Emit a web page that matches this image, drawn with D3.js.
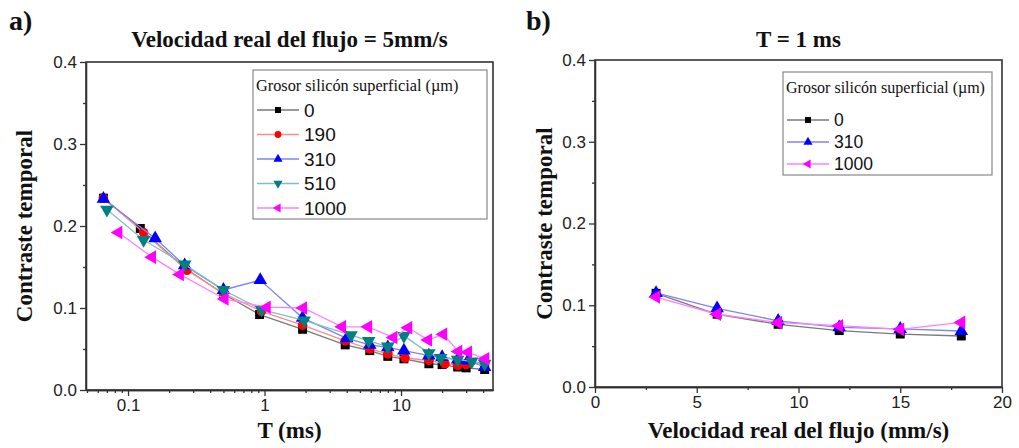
<!DOCTYPE html>
<html lang="en">
<head>
<meta charset="UTF-8">
<title>Contraste temporal</title>
<script src="https://d3js.org/d3.v7.min.js"></script>
<style>
    body { margin: 0; background: #fff; }
    svg { display: block; }
    .tick text { font-family: "Liberation Sans", Arial, sans-serif; font-size: 17px; fill: #222; }
    .tick line, .domain { stroke: #333; stroke-width: 1.3px; }
    .frame { fill: none; stroke: #333; stroke-width: 1.6px; }
    .title, .axis-label, .panel-tag { font-family: "Liberation Serif", "Times New Roman", serif; font-weight: bold; fill: #111; }
    .legend-title { font-family: "Liberation Serif", "Times New Roman", serif; fill: #111; }
    .legend-text { font-family: "Liberation Sans", Arial, sans-serif; fill: #111; }
    .legend-box { fill: #fff; stroke: #888; stroke-width: 1.2px; }
</style>
</head>
<body>
<svg id="chart" width="1019" height="448"></svg>
<script>
// ---- panel a) : contraste vs T (ms), velocidad = 5 mm/s ----
const tBlack = [0.066, 0.123, 0.26, 0.5, 0.92, 1.9, 3.9, 5.9, 8, 10.5, 16, 20, 26, 30, 41];
const vBlack = [0.234, 0.197, 0.149, 0.117, 0.092, 0.074, 0.055, 0.048, 0.041, 0.038, 0.032, 0.031, 0.028, 0.027, 0.025];
const tRed = [0.066, 0.13, 0.27, 0.5, 0.95, 1.9, 3.9, 5.9, 8, 10.7, 16, 21, 26, 30, 41];
const vRed = [0.234, 0.192, 0.146, 0.118, 0.096, 0.079, 0.060, 0.050, 0.044, 0.039, 0.036, 0.032, 0.030, 0.031, 0.033];
const tBlue = [0.066, 0.158, 0.26, 0.5, 0.93, 1.9, 4, 5.9, 8, 10.5, 16, 20, 26, 31, 41];
const vBlue = [0.233, 0.185, 0.152, 0.122, 0.134, 0.088, 0.063, 0.055, 0.052, 0.048, 0.042, 0.040, 0.037, 0.036, 0.028];
const tTeal = [0.07, 0.13, 0.26, 0.5, 0.95, 1.95, 4.3, 5.8, 8, 10.5, 16, 19.5, 26, 33, 41];
const vTeal = [0.220, 0.183, 0.153, 0.122, 0.098, 0.085, 0.067, 0.060, 0.053, 0.066, 0.045, 0.039, 0.037, 0.035, 0.032];
const tMag = [0.085, 0.15, 0.24, 0.51, 1.04, 1.92, 3.7, 5.75, 8.8, 11.3, 15.8, 20.4, 26.3, 31, 41.5];
const vMag = [0.192, 0.162, 0.141, 0.111, 0.101, 0.100, 0.077, 0.077, 0.064, 0.076, 0.061, 0.068, 0.047, 0.046, 0.038];

// ---- panel b) : contraste vs velocidad, T = 1 ms ----
const velocidad = [3, 6, 9, 12, 15, 18];
const vB0 = [0.1146, 0.089, 0.0767, 0.069, 0.0648, 0.0624];
const vB310 = [0.115, 0.0962, 0.081, 0.073, 0.071, 0.0685];
const vB1000 = [0.110, 0.089, 0.0787, 0.075, 0.0705, 0.079];

const yTicks = [0, 0.1, 0.2, 0.3, 0.4];
const yMinor = [0.05, 0.15, 0.25, 0.35];
const logMajor = [0.1, 1, 10];
const logMinor = [0.05, 0.06, 0.07, 0.08, 0.09, 0.2, 0.3, 0.4, 0.5, 0.6, 0.7, 0.8, 0.9,
                  2, 3, 4, 5, 6, 7, 8, 9, 20, 30, 40];
const velMajor = [0, 5, 10, 15, 20];
const velMinor = [2.5, 7.5, 12.5, 17.5];

const svg = d3.select("#chart");

// marker shapes
const shapes = {
    square: { type: d3.symbolSquare, rot: 0 },
    circle: { type: d3.symbolCircle, rot: 0 },
    up: { type: d3.symbolTriangle, rot: 0 },
    down: { type: d3.symbolTriangle, rot: 180 },
    left: { type: d3.symbolTriangle, rot: -90 }
};

function zip(xs, ys) { return xs.map((x, i) => ({ x: x, y: ys[i] })); }

function drawPanel(p) {
    const g = svg.append("g");
    const x = p.x, y = p.y;
    const [x0, x1] = x.range();
    const [y0, y1] = y.range();

    // axes
    g.append("g").attr("transform", `translate(0,${y0})`)
        .call(d3.axisBottom(x).tickValues(p.xMajor).tickFormat(p.xFormat).tickSize(6).tickSizeOuter(0).tickPadding(3));
    g.append("g").attr("transform", `translate(0,${y0})`)
        .call(d3.axisBottom(x).tickValues(p.xMinor).tickFormat("").tickSize(3).tickSizeOuter(0));
    g.append("g").attr("transform", `translate(${x0},0)`)
        .call(d3.axisLeft(y).tickValues(yTicks).tickFormat(d3.format(".1f")).tickSize(6).tickSizeOuter(0).tickPadding(3));
    g.append("g").attr("transform", `translate(${x0},0)`)
        .call(d3.axisLeft(y).tickValues(yMinor).tickFormat("").tickSize(3).tickSizeOuter(0));

    g.append("rect").attr("class", "frame")
        .attr("x", x0).attr("y", y1).attr("width", x1 - x0).attr("height", y0 - y1);

    // series
    const line = d3.line().x(d => x(d.x)).y(d => y(d.y));
    p.series.forEach(s => {
        const pts = zip(s.xs, s.ys);
        g.append("path").datum(pts)
            .attr("d", line).attr("fill", "none")
            .attr("stroke", s.line).attr("stroke-width", 1.3);
        g.selectAll(null).data(pts).enter().append("path")
            .attr("d", d3.symbol().type(shapes[s.shape].type).size(s.shape === "circle" ? 72 : 80))
            .attr("transform", d => `translate(${x(d.x)},${y(d.y)}) rotate(${shapes[s.shape].rot})`)
            .attr("fill", s.color);
    });

    // legend
    const L = p.legend;
    const lg = g.append("g");
    lg.append("rect").attr("class", "legend-box")
        .attr("x", L.x).attr("y", L.y).attr("width", L.w).attr("height", L.h);
    lg.append("text").attr("class", "legend-title")
        .attr("x", L.x + 3).attr("y", L.titleY)
        .style("font-size", L.tfs + "px")
        .text("Grosor silicón superficial (µm)");
    p.series.forEach((s, i) => {
        const ry = L.rowY + i * L.step;
        lg.append("line").attr("x1", L.x + 4).attr("x2", L.x + 46)
            .attr("y1", ry).attr("y2", ry).attr("stroke", s.line).attr("stroke-width", 1.3);
        lg.append("path")
            .attr("d", d3.symbol().type(shapes[s.shape].type).size(36))
            .attr("transform", `translate(${L.x + 25},${ry}) rotate(${shapes[s.shape].rot})`)
            .attr("fill", s.color);
        lg.append("text").attr("class", "legend-text")
            .attr("x", L.x + 51).attr("y", ry + L.fs * 0.36)
            .style("font-size", L.fs + "px")
            .text(s.name);
    });

    // titles
    g.append("text").attr("class", "title").attr("text-anchor", "middle")
        .attr("x", (x0 + x1) / 2).attr("y", 47).style("font-size", "23px").text(p.title);
    g.append("text").attr("class", "axis-label").attr("text-anchor", "middle")
        .attr("x", (x0 + x1) / 2).attr("y", 438).style("font-size", "23px").text(p.xLabel);
    g.append("text").attr("class", "axis-label").attr("text-anchor", "middle")
        .attr("transform", `translate(${x0 - p.yLabelOff},${(y0 + y1) / 2}) rotate(-90)`)
        .style("font-size", "23px").text("Contraste temporal");
    g.append("text").attr("class", "panel-tag")
        .attr("x", p.tagX).attr("y", 30).style("font-size", "28px").text(p.tag);
}

drawPanel({
    x: d3.scaleLog().domain([0.0492, 47.2]).range([86, 493]),
    y: d3.scaleLinear().domain([0, 0.4]).range([390, 62]),
    xMajor: logMajor, xMinor: logMinor, xFormat: d3.format("~g"),
    title: "Velocidad real del flujo = 5mm/s",
    xLabel: "T (ms)",
    yLabelOff: 54,
    tag: "a)", tagX: 9,
    legend: { x: 253, y: 70, w: 234, h: 149, titleY: 91, tfs: 16.3, rowY: 110, step: 24.5, fs: 19 },
    series: [
        { name: "0", xs: tBlack, ys: vBlack, color: "#000000", line: "#7a7a7a", shape: "square" },
        { name: "190", xs: tRed, ys: vRed, color: "#ff0000", line: "#ff8c8c", shape: "circle" },
        { name: "310", xs: tBlue, ys: vBlue, color: "#0000ff", line: "#8080ff", shape: "up" },
        { name: "510", xs: tTeal, ys: vTeal, color: "#008080", line: "#80c0c0", shape: "down" },
        { name: "1000", xs: tMag, ys: vMag, color: "#ff00ff", line: "#ff80ff", shape: "left" }
    ]
});

drawPanel({
    x: d3.scaleLinear().domain([0, 20]).range([595, 1002]),
    y: d3.scaleLinear().domain([0, 0.4]).range([387, 60]),
    xMajor: velMajor, xMinor: velMinor, xFormat: d3.format("d"),
    title: "T = 1 ms",
    xLabel: "Velocidad real del flujo (mm/s)",
    yLabelOff: 43,
    tag: "b)", tagX: 526,
    legend: { x: 783, y: 72, w: 209, h: 103, titleY: 93, tfs: 16, rowY: 120, step: 22, fs: 17.5 },
    series: [
        { name: "0", xs: velocidad, ys: vB0, color: "#000000", line: "#7a7a7a", shape: "square" },
        { name: "310", xs: velocidad, ys: vB310, color: "#0000ff", line: "#8080ff", shape: "up" },
        { name: "1000", xs: velocidad, ys: vB1000, color: "#ff00ff", line: "#ff80ff", shape: "left" }
    ]
});
</script>
</body>
</html>
